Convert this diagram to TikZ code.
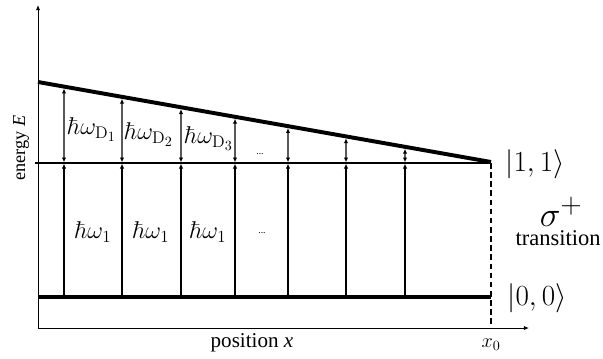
\documentclass[tikz,border=0pt]{standalone}
\usepackage{amsmath}
\usepackage[no-math]{fontspec}
\setmainfont{Liberation Serif}
\usetikzlibrary{arrows.meta,calc,positioning}
\tikzset{
  axisline/.style={line width=0.7pt,-{Latex[length=1.3mm,width=1.1mm]}},
  levelline/.style={line width=2.8pt},
  thinlevel/.style={line width=0.9pt},
  markerline/.style={line width=0.9pt,dash pattern=on 4pt off 2.5pt},
  gaparrow/.style={line width=0.8pt,{Latex[length=1.2mm,width=1.1mm]}-{Latex[length=1.2mm,width=1.1mm]}},
  pumparrow/.style={line width=0.8pt,-{Latex[length=1.2mm,width=1.1mm]}},
  axislabel/.style={font=\fontsize{15}{18}\selectfont,inner sep=0pt},
  statelabel/.style={font=\huge,inner sep=0pt},
  gaplabel/.style={font=\LARGE,inner sep=0pt},
  dotslabel/.style={font=\scriptsize,inner sep=0pt}
}
\begin{document}
\begin{tikzpicture}[x=0.025cm,y=-0.025cm]
  \useasboundingbox (0,0) rectangle (603,358);

  % axes
  \coordinate (O) at (38,328);
  \coordinate (Ytop) at (38,5);
  \coordinate (Xend) at (529,328);
  \draw[axisline] (O) -- (Ytop);
  \draw[axisline] (O) -- (Xend);

  % levels
  \coordinate (G0) at (38,297);
  \coordinate (G1) at (491,297);
  \coordinate (M0) at (35,163);
  \coordinate (M1) at (491,163);
  \coordinate (S0) at (38,82);
  \coordinate (S1) at (491,162);
  \coordinate (X0) at (491,328);
  \draw[thinlevel] (M0) -- (M1);
  \draw[levelline] (G0) -- (G1);
  \draw[levelline] (S0) -- (S1);
  \draw[markerline] (M1) -- (X0);

  % transitions along x
  \foreach \px [count=\i] in {64,122,181,235,288,346,405}{
    \pgfmathsetmacro{\t}{(\px-38)/453}
    \coordinate (B\i) at (\px,297);
    \coordinate (C\i) at (\px,163);
    \coordinate (T\i) at ($(S0)!\t!(S1)$);
    \draw[pumparrow,shorten >=0.5pt] (B\i) -- (C\i);
    \draw[gaparrow,shorten <=0.5pt,shorten >=1.4pt] (C\i) -- (T\i);
  }

  % labels
  \node[axislabel,rotate=90,font=\fontsize{13}{16}\selectfont] (elabel) at (21,148) {energy \textit{E}};
  \node[axislabel] (xlabel) at (252,343) {position \textit{x}};
  \node[font=\Large,inner sep=0pt] (x0label) at (491,345) {$x_0$};
  \node[statelabel] (upper) at (535,164) {$|1,1\rangle$};
  \node[statelabel] (lower) at (537,298) {$|0,0\rangle$};
  \node[font=\Huge,inner sep=0pt] (sigma) at (561,212) {$\sigma^+$};
  \node[axislabel,font=\fontsize{16}{19}\selectfont] (trans) at (558,238) {transition};

  \node[gaplabel] (D1) at (92,130) {$\hbar\omega_{\mathrm{D}_1}$};
  \node[gaplabel] (D2) at (149,135) {$\hbar\omega_{\mathrm{D}_2}$};
  \node[gaplabel] (D3) at (209,139) {$\hbar\omega_{\mathrm{D}_3}$};
  \node[dotslabel] (Ddots) at (260,154) {...};
  \node[gaplabel] (W1) at (93,232) {$\hbar\omega_1$};
  \node[gaplabel] (W2) at (151,232) {$\hbar\omega_1$};
  \node[gaplabel] (W3) at (208,232) {$\hbar\omega_1$};
  \node[dotslabel] (Wdots) at (262,233) {...};
\end{tikzpicture}
\end{document}
